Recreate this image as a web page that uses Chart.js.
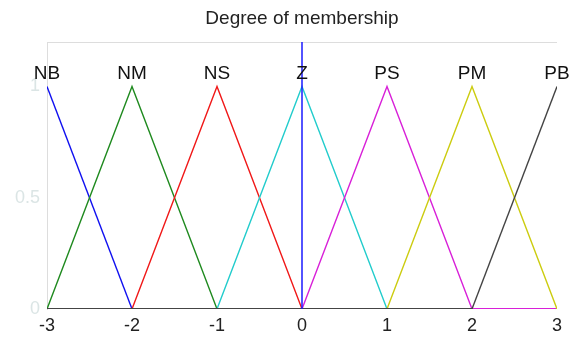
<!DOCTYPE html>
<html>
<head>
<meta charset="utf-8">
<title>Degree of membership</title>
<script src="https://cdn.jsdelivr.net/npm/chart.js@4/dist/chart.umd.min.js"></script>
<style>
  html, body { margin: 0; padding: 0; background: #ffffff; }
  #wrap { width: 579px; height: 338px; }
</style>
</head>
<body>
<div id="wrap"><canvas id="mf"></canvas></div>
<script>
// Input universe breakpoints and the seven linguistic terms
const xPoints = [-3, -2, -1, 0, 1, 2, 3];
const termNames = ['NB', 'NM', 'NS', 'Z', 'PS', 'PM', 'PB'];
const termPeaks = [-3, -2, -1, 0, 1, 2, 3];

// Membership degree of each term at every breakpoint
const NB = [1, 0, 0, 0, 0, 0, 0];
const NM = [0, 1, 0, 0, 0, 0, 0];
const NS = [0, 0, 1, 0, 0, 0, 0];
const Z  = [0, 0, 0, 1, 0, 0, 0];
const PS = [0, 0, 0, 0, 1, 0, 0];
const PM = [0, 0, 0, 0, 0, 1, 0];
const PB = [0, 0, 0, 0, 0, 0, 1];

// Current crisp input value (vertical marker)
const inputValue = 0;

const xTicks = [-3, -2, -1, 0, 1, 2, 3];
const yTicks = [0, 0.5, 1];
const titleText = 'Degree of membership';

const seriesValues = [NB, NM, NS, Z, PS, PM, PB];
const seriesColors = ['#1010f0', '#1f8a1f', '#f01818', '#22cccc', '#d820d8', '#cccc10', '#444444'];

const FONT = '"Liberation Sans", Arial, sans-serif';
Chart.defaults.font.family = FONT;

const datasets = seriesValues.map((vals, i) => ({
  label: termNames[i],
  data: xPoints.map((x, k) => ({ x: x, y: vals[k] })),
  borderColor: seriesColors[i],
  borderWidth: 1.4,
  segment: {
    // flat stretches along zero sit on the axis and are drawn a bit heavier
    borderWidth: ctx => (ctx.p0.parsed.y === 0 && ctx.p1.parsed.y === 0 ? 2 : 1.4)
  },
  pointRadius: 0,
  tension: 0,
  fill: false,
  order: 10 - i
}));

datasets.push({
  label: 'input',
  data: [{ x: inputValue, y: 0 }, { x: inputValue, y: 1.2 }],
  borderColor: '#1a1aff',
  borderWidth: 1.5,
  pointRadius: 0,
  fill: false,
  order: 0
});

// Title over the plot, top frame line and term names above each peak
const termLabels = {
  id: 'termLabels',
  beforeDatasetsDraw(chart) {
    const { ctx, chartArea } = chart;
    ctx.save();
    ctx.strokeStyle = '#dddddd';
    ctx.lineWidth = 1;
    ctx.beginPath();
    ctx.moveTo(chartArea.left, chartArea.top + 0.5);
    ctx.lineTo(chartArea.right, chartArea.top + 0.5);
    ctx.stroke();
    ctx.font = '19px ' + FONT;
    ctx.fillStyle = '#222222';
    ctx.textAlign = 'center';
    ctx.textBaseline = 'middle';
    ctx.fillText(titleText, (chartArea.left + chartArea.right) / 2, 19);
    ctx.restore();
  },
  afterDatasetsDraw(chart) {
    const { ctx, scales } = chart;
    ctx.save();
    ctx.font = '19px ' + FONT;
    ctx.fillStyle = '#111111';
    ctx.textAlign = 'center';
    ctx.textBaseline = 'middle';
    termNames.forEach((name, i) => {
      ctx.fillText(name, scales.x.getPixelForValue(termPeaks[i]), scales.y.getPixelForValue(1.055));
    });
    ctx.restore();
  }
};

new Chart(document.getElementById('mf'), {
  type: 'line',
  data: { datasets: datasets },
  options: {
    responsive: true,
    maintainAspectRatio: false,
    animation: false,
    layout: { padding: { left: 0, right: 22, top: 42, bottom: 0 } },
    plugins: {
      legend: { display: false },
      tooltip: { enabled: false },
      title: { display: false }
    },
    scales: {
      x: {
        type: 'linear',
        min: -3,
        max: 3,
        afterBuildTicks(scale) { scale.ticks = xTicks.map(v => ({ value: v })); },
        afterFit(scale) { scale.height = 29; },
        grid: { display: false, drawTicks: false },
        border: { display: false },
        ticks: { color: '#222222', font: { size: 18 }, padding: 6 }
      },
      y: {
        min: 0,
        max: 1.2,
        afterBuildTicks(scale) { scale.ticks = yTicks.map(v => ({ value: v })); },
        afterFit(scale) { scale.width = 47; },
        grid: { display: false, drawTicks: false },
        border: { display: true, color: '#dddddd', width: 1 },
        ticks: {
          color: '#dbe5e5',
          font: { size: 18 },
          padding: 7,
          callback: v => String(v)
        }
      }
    }
  },
  plugins: [termLabels]
});
</script>
</body>
</html>
